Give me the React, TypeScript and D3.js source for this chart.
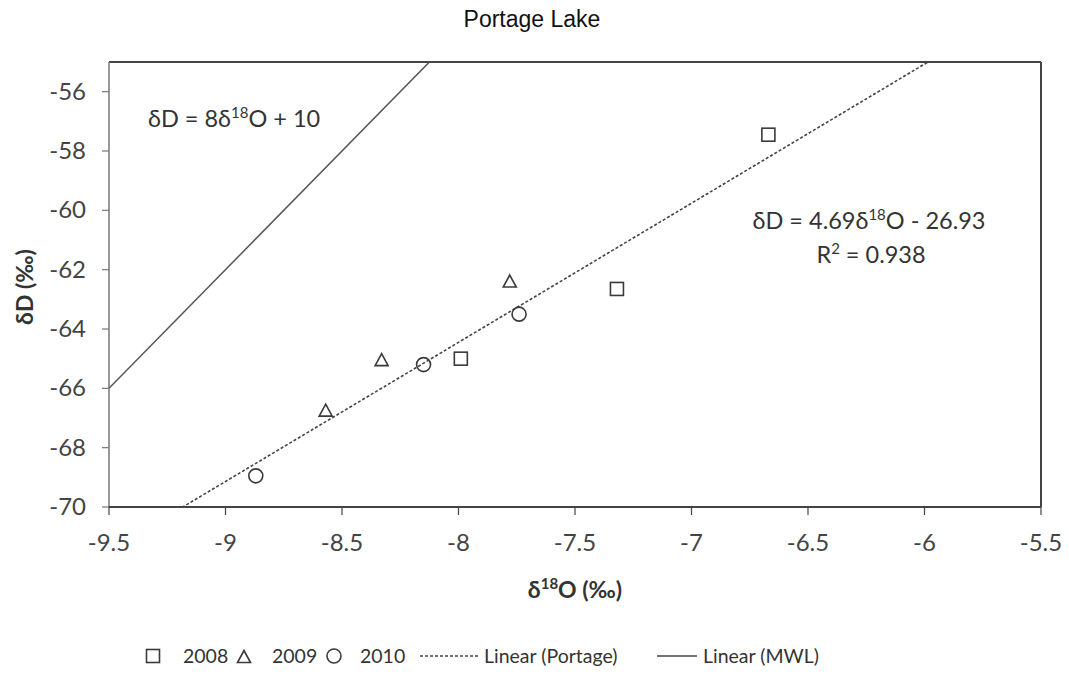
import React from "react";
import * as d3 from "d3";

// Isotope samples (δ18O, δD) per sampling year
const years = ["2008", "2009", "2010"];
const d18O_2008 = [-7.99, -7.32, -6.67];
const dD_2008 = [-65.0, -62.65, -57.45];
const d18O_2009 = [-8.57, -8.33, -7.78];
const dD_2009 = [-66.75, -65.05, -62.4];
const d18O_2010 = [-8.87, -8.15, -7.74];
const dD_2010 = [-68.95, -65.2, -63.5];

// Fitted lines: local evaporation line and global meteoric water line
const portageFit = { slope: 4.69, intercept: -26.93, r2: 0.938 };
const mwlFit = { slope: 8, intercept: 10 };

const xTicks = [-9.5, -9, -8.5, -8, -7.5, -7, -6.5, -6, -5.5];
const yTicks = [-70, -68, -66, -64, -62, -60, -58, -56];

const W = 1069;
const H = 675;
const plot = { left: 109, right: 1041, top: 62, bottom: 507 };
const ink = "#3a3a3a";
const font = "Lato, 'Open Sans', sans-serif";

export default function App() {
  const x = d3.scaleLinear().domain([-9.5, -5.5]).range([plot.left, plot.right]);
  const y = d3.scaleLinear().domain([-70, -55]).range([plot.bottom, plot.top]);

  const fitLine = (f: { slope: number; intercept: number }) =>
    d3.line<number>()
      .x((v) => x(v))
      .y((v) => y(f.slope * v + f.intercept))([-9.5, -5.5]) as string;

  const pts = (xs: number[], ys: number[]) => xs.map((v, i) => [x(v), y(ys[i])] as [number, number]);

  const s = 6.5;
  const square = (cx: number, cy: number, k: string) => (
    <rect key={k} x={cx - s} y={cy - s} width={2 * s} height={2 * s} fill="none" stroke={ink} strokeWidth={1.6} />
  );
  const triangle = (cx: number, cy: number, k: string) => (
    <path key={k} d={`M${cx},${cy - 6.5}L${cx + 6.5},${cy + 5.5}L${cx - 6.5},${cy + 5.5}Z`} fill="none" stroke={ink} strokeWidth={1.6} />
  );
  const circle = (cx: number, cy: number, k: string) => (
    <circle key={k} cx={cx} cy={cy} r={7} fill="none" stroke={ink} strokeWidth={1.6} />
  );

  const legendY = 656;

  return (
    <svg width={W} height={H} style={{ position: "absolute", left: 0, top: 0, background: "#fff" }}>
      <defs>
        <clipPath id="plotClip">
          <rect x={plot.left} y={plot.top} width={plot.right - plot.left} height={plot.bottom - plot.top} />
        </clipPath>
      </defs>

      <text x={532} y={27} textAnchor="middle" fontFamily="'Liberation Sans', Arial, sans-serif" fontSize={23} fill="#111">
        Portage Lake
      </text>

      {/* frame */}
      <line x1={plot.left} x2={plot.right} y1={plot.top} y2={plot.top} stroke="#444" strokeWidth={2} />
      <line x1={plot.right} x2={plot.right} y1={plot.top} y2={plot.bottom} stroke="#444" strokeWidth={2} />
      <line x1={plot.left} x2={plot.left} y1={plot.top} y2={plot.bottom} stroke="#777" strokeWidth={1.5} />
      <line x1={plot.left} x2={plot.right} y1={plot.bottom} y2={plot.bottom} stroke="#444" strokeWidth={2} />

      {/* y axis */}
      {yTicks.map((t) => (
        <g key={t}>
          <line x1={plot.left - 7} x2={plot.left} y1={y(t)} y2={y(t)} stroke="#777" strokeWidth={1.2} />
          <text x={86} y={y(t) + 8} textAnchor="end" fontFamily={font} fontSize={24} fill="#444">
            {t}
          </text>
        </g>
      ))}
      {/* x axis */}
      {xTicks.map((t) => (
        <g key={t}>
          <line x1={x(t)} x2={x(t)} y1={plot.bottom} y2={plot.bottom + 8} stroke="#444" strokeWidth={1.2} />
          <text x={x(t)} y={551} textAnchor="middle" fontFamily={font} fontSize={24} fill="#444">
            {t}
          </text>
        </g>
      ))}

      <text
        transform={`translate(33,287) rotate(-90)`}
        textAnchor="middle"
        fontFamily={font}
        fontWeight="bold"
        fontSize={23}
        fill="#333"
      >
        δD (‰)
      </text>
      <text x={575} y={598} textAnchor="middle" fontFamily={font} fontWeight="bold" fontSize={23} fill="#333">
        δ<tspan fontSize={15} dy={-9}>18</tspan>
        <tspan dy={9}>O (‰)</tspan>
      </text>

      {/* fitted lines */}
      <g clipPath="url(#plotClip)">
        <path d={fitLine(mwlFit)} fill="none" stroke="#555" strokeWidth={1.5} />
        <path d={fitLine(portageFit)} fill="none" stroke="#444" strokeWidth={1.6} strokeDasharray="3,2" />
      </g>

      {/* samples */}
      {pts(d18O_2008, dD_2008).map(([cx, cy], i) => square(cx, cy, `a${i}`))}
      {pts(d18O_2009, dD_2009).map(([cx, cy], i) => triangle(cx, cy, `b${i}`))}
      {pts(d18O_2010, dD_2010).map(([cx, cy], i) => circle(cx, cy, `c${i}`))}

      {/* equations */}
      <text x={148} y={127} fontFamily={font} fontSize={23.5} fill="#333">
        δD = 8δ<tspan fontSize={15} dy={-9}>18</tspan>
        <tspan dy={9}>O + {mwlFit.intercept}</tspan>
      </text>
      <text x={869} y={229} textAnchor="middle" fontFamily={font} fontSize={23.5} fill="#333">
        δD = {portageFit.slope}δ<tspan fontSize={15} dy={-9}>18</tspan>
        <tspan dy={9}>O - {Math.abs(portageFit.intercept)}</tspan>
      </text>
      <text x={871} y={263} textAnchor="middle" fontFamily={font} fontSize={23.5} fill="#333">
        R<tspan fontSize={15} dy={-9}>2</tspan>
        <tspan dy={9}> = {portageFit.r2}</tspan>
      </text>

      {/* legend */}
      <g fontFamily={font} fontSize={19.5} fill="#333">
        {square(153, legendY, "l0")}
        <text x={183} y={legendY + 7}>{years[0]}</text>
        {triangle(244, legendY + 1, "l1")}
        <text x={272} y={legendY + 7}>{years[1]}</text>
        {circle(334, legendY, "l2")}
        <text x={360} y={legendY + 7}>{years[2]}</text>
        <line x1={420} x2={480} y1={legendY} y2={legendY} stroke="#444" strokeWidth={1.5} strokeDasharray="3,2" />
        <text x={484} y={legendY + 7}>Linear (Portage)</text>
        <line x1={657} x2={697} y1={legendY} y2={legendY} stroke="#444" strokeWidth={1.5} />
        <text x={703} y={legendY + 7}>Linear (MWL)</text>
      </g>
    </svg>
  );
}
